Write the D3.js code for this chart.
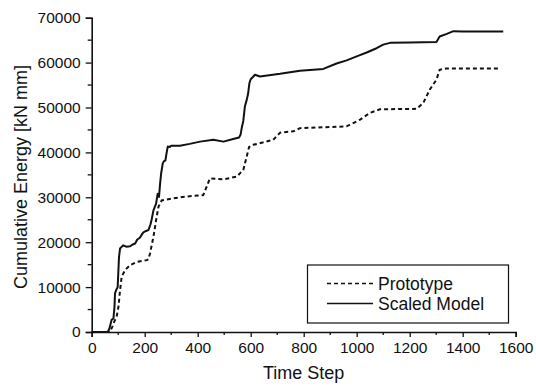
<!DOCTYPE html>
<html>
<head>
<meta charset="utf-8">
<script src="https://cdn.jsdelivr.net/npm/d3@7"></script>
<style>
  body { margin: 0; background: #fff; }
  svg text { font-family: "Liberation Sans", Arial, Helvetica, sans-serif; fill: #111; }
</style>
</head>
<body>
<svg id="chart" width="536" height="386"></svg>
<script>
// values: [time step, cumulative energy]
var seriesNames = ["Prototype", "Scaled Model"];
var xTicks = [0, 200, 400, 600, 800, 1000, 1200, 1400, 1600];
var yTicks = [0, 10000, 20000, 30000, 40000, 50000, 60000, 70000];

var prototype = [
  [0,0],[68,0],[72,400],[78,1200],[82,1900],[94,3400],[101,5600],[107,9300],[113,12300],
  [126,13800],[145,14900],[170,15600],[208,16000],[214,16200],[220,17500],[233,21200],
  [243,24900],[252,27900],[264,29300],[283,29500],[333,30000],[380,30300],[421,30500],
  [434,32400],[446,34200],[497,34000],[547,34600],[572,36100],[585,39100],[594,41200],
  [610,41700],[685,42800],[711,44400],[761,44700],[786,45400],[962,45800],[1013,47300],
  [1050,48800],[1088,49600],[1226,49700],[1251,51000],[1276,54000],[1301,56200],
  [1313,58400],[1338,58700],[1540,58700]
];

var scaledModel = [
  [0,0],[60,0],[66,600],[70,1500],[75,2700],[82,3000],[86,5600],[88,8600],[92,9300],
  [98,10000],[103,16700],[107,18600],[112,18900],[119,19300],[130,19000],[145,19100],
  [155,19500],[164,19700],[172,20600],[182,21000],[190,21800],[195,22200],[205,22500],
  [214,22700],[222,24000],[226,25000],[233,27100],[243,28600],[249,30800],[254,30100],
  [258,33000],[262,35300],[268,37500],[272,38000],[278,38200],[283,40000],[287,41300],
  [295,41200],[300,41500],[333,41500],[370,41900],[409,42400],[459,42800],[497,42400],
  [534,43000],[556,43300],[562,44000],[566,45400],[572,47000],[578,50200],[585,51700],
  [590,53000],[595,55400],[600,56300],[610,56900],[616,57300],[635,56900],[711,57500],
  [786,58200],[874,58600],[924,59800],[962,60500],[1000,61400],[1040,62300],[1075,63200],
  [1100,64000],[1126,64400],[1200,64500],[1301,64600],[1313,65800],[1340,66400],
  [1365,67000],[1400,66900],[1553,66900]
];

var svg = d3.select("#chart");
var mLeft = 91.7, mRight = 515.7, mTop = 17.7, mBottom = 332;

var x = d3.scaleLinear().domain([0, 1600]).range([mLeft, mRight]);
var y = d3.scaleLinear().domain([0, 70000]).range([mBottom, mTop]);

// minor ticks
var xMinor = d3.range(0, 1601, 100).filter(function(v) { return v % 200 != 0; });
var yMinor = d3.range(0, 70001, 5000).filter(function(v) { return v % 10000 != 0; });

var xAxis = svg.append("g").attr("transform", "translate(0," + mBottom + ")");
xAxis.call(d3.axisBottom(x).tickValues(xTicks).tickSize(5).tickPadding(5).tickFormat(d3.format("d")));
xAxis.selectAll("line.minor").data(xMinor).enter().append("line")
  .attr("class", "minor")
  .attr("x1", function(d) { return x(d); }).attr("x2", function(d) { return x(d); })
  .attr("y1", 0).attr("y2", 3).attr("stroke", "#111").attr("stroke-width", 1.3);

var yAxis = svg.append("g").attr("transform", "translate(" + mLeft + ",0)");
yAxis.call(d3.axisLeft(y).tickValues(yTicks).tickSize(6).tickPadding(5).tickFormat(d3.format("d")));
yAxis.selectAll("line.minor").data(yMinor).enter().append("line")
  .attr("class", "minor")
  .attr("x1", 0).attr("x2", -4)
  .attr("y1", function(d) { return y(d); }).attr("y2", function(d) { return y(d); })
  .attr("stroke", "#111").attr("stroke-width", 1.3);

svg.selectAll(".domain").attr("stroke", "#111").attr("stroke-width", 1.6);
svg.selectAll(".tick line").attr("stroke", "#111").attr("stroke-width", 1.3);
svg.selectAll(".tick text").style("font-size", "15.5px").attr("fill", "#111");

// axis titles
svg.append("text")
  .attr("x", (mLeft + mRight) / 2).attr("y", 379)
  .attr("text-anchor", "middle").style("font-size", "18px")
  .text("Time Step");
svg.append("text")
  .attr("transform", "translate(27,177) rotate(-90)")
  .attr("text-anchor", "middle").style("font-size", "18px")
  .text("Cumulative Energy [kN mm]");

// lines
var line = d3.line().x(function(d) { return x(d[0]); }).y(function(d) { return y(d[1]); });

svg.append("path").datum(prototype)
  .attr("d", line).attr("fill", "none").attr("stroke", "#111")
  .attr("stroke-width", 2).attr("stroke-dasharray", "4,3");
svg.append("path").datum(scaledModel)
  .attr("d", line).attr("fill", "none").attr("stroke", "#111")
  .attr("stroke-width", 2).attr("stroke-linejoin", "round");

// legend
var lg = svg.append("g");
lg.append("rect").attr("x", 307.5).attr("y", 265).attr("width", 201).attr("height", 58)
  .attr("fill", "#fff").attr("stroke", "#111").attr("stroke-width", 1.2);
var dashes = ["4,3", null];
seriesNames.forEach(function(name, i) {
  var yy = 283.5 + i * 20;
  lg.append("line").attr("x1", 327).attr("x2", 373).attr("y1", yy).attr("y2", yy)
    .attr("stroke", "#111").attr("stroke-width", 1.6)
    .attr("stroke-dasharray", dashes[i]);
  lg.append("text").attr("x", 378).attr("y", yy + 6.2)
    .style("font-size", "17.5px").text(name);
});
</script>
</body>
</html>
